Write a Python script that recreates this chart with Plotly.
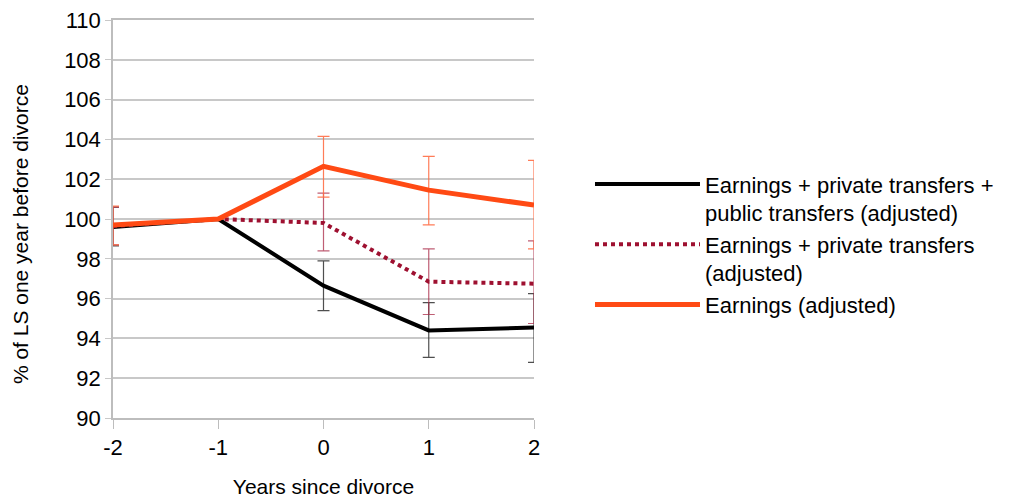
import plotly.graph_objects as go

years = [-2, -1, 0, 1, 2]

total = [99.6, 100.0, 96.65, 94.4, 94.55]
total_hi = [100.6, 100.0, 97.9, 95.8, 96.25]
total_lo = [98.65, 100.0, 95.4, 93.05, 92.8]

private = [99.65, 100.0, 99.8, 96.85, 96.75]
private_hi = [100.6, 100.0, 101.3, 98.5, 98.9]
private_lo = [98.7, 100.0, 98.4, 95.2, 94.75]

earn = [99.7, 100.0, 102.65, 101.45, 100.7]
earn_hi = [100.65, 100.0, 104.15, 103.15, 102.95]
earn_lo = [98.7, 100.0, 101.1, 99.7, 98.5]

yticks = list(range(90, 111, 2))

FONT = "Arial, Liberation Sans, sans-serif"


def errs(v, hi, lo):
    plus = [h - x for h, x in zip(hi, v)]
    minus = [x - l for l, x in zip(lo, v)]
    plus = [p if p > 0 else None for p in plus]
    minus = [m if m > 0 else None for m in minus]
    return plus, minus


fig = go.Figure()

series = [
    ("Earnings + private transfers +<br>public transfers (adjusted)", total, total_hi, total_lo,
     dict(color="#000000", width=4), "rgba(60,60,60,0.9)"),
    ("Earnings + private transfers<br>(adjusted)", private, private_hi, private_lo,
     dict(color="#9E1030", width=4, dash="dot"), "rgba(170,40,70,0.75)"),
    ("Earnings (adjusted)", earn, earn_hi, earn_lo,
     dict(color="#FF4A14", width=5), "rgba(255,110,70,0.9)"),
]

for name, v, hi, lo, line, ecol in series:
    plus, minus = errs(v, hi, lo)
    fig.add_trace(go.Scatter(
        x=years, y=v, mode="lines", name=name, line=line,
        error_y=dict(type="data", symmetric=False, array=plus, arrayminus=minus,
                     color=ecol, thickness=1.2, width=6),
    ))

fig.add_annotation(
    text="% of LS one year before divorce", textangle=-90,
    xref="paper", yref="paper", x=0, y=0.462, xshift=-93,
    xanchor="center", yanchor="middle", showarrow=False,
    font=dict(family=FONT, size=21, color="#000000"),
)

fig.update_layout(
    width=1011, height=498,
    margin=dict(l=113, r=477, t=20, b=80),
    paper_bgcolor="white", plot_bgcolor="white",
    font=dict(family=FONT, size=22, color="#000000"),
    showlegend=True,
    legend=dict(x=1.133, y=0.64, xanchor="left", yanchor="top", valign="top",
                font=dict(family=FONT, size=22, color="#000000"),
                bgcolor="rgba(0,0,0,0)", itemwidth=105),
    xaxis=dict(range=[-2, 2], tickvals=years, ticktext=[str(y) for y in years],
               showgrid=False, zeroline=False, showline=True, linecolor="#bdbdbd",
               linewidth=1.5, mirror=True, ticks="outside", ticklen=9, tickcolor="#bdbdbd",
               tickfont=dict(size=22), automargin=False,
               title=dict(text="Years since divorce", font=dict(size=21), standoff=22)),
    yaxis=dict(range=[90, 110], tickvals=yticks, ticktext=[str(t) for t in yticks],
               showgrid=True, gridcolor="#c8c8c8", gridwidth=1.5, zeroline=False,
               showline=True, linecolor="#bdbdbd", linewidth=1.5,
               ticks="outside", ticklen=6, tickcolor="#c8c8c8",
               tickfont=dict(size=22), automargin=False),
)

fig.write_html("out.html", config={"displayModeBar": False},
               post_script="document.body.style.margin='0';")
